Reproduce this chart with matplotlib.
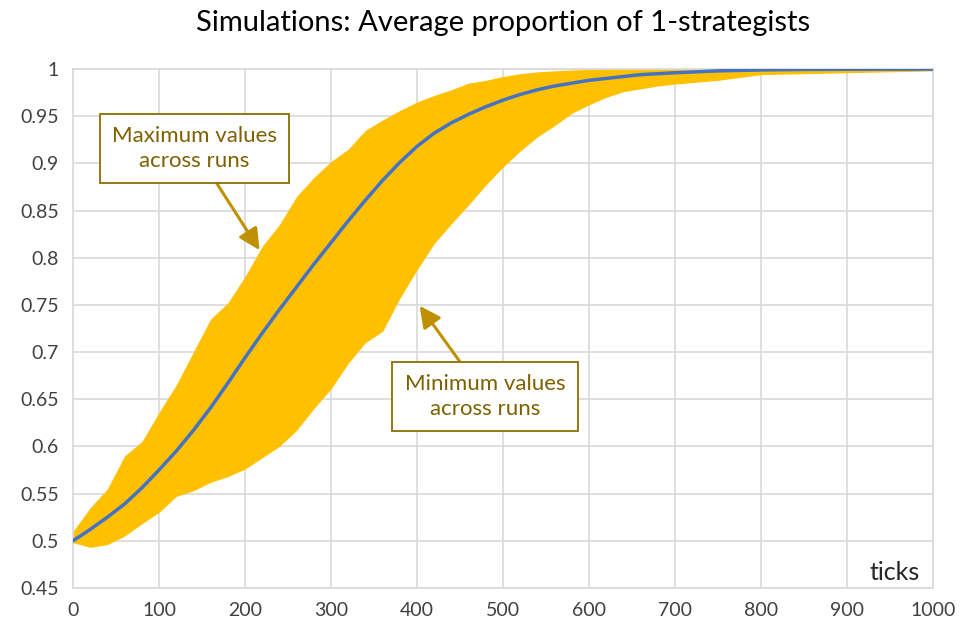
import matplotlib.pyplot as plt

plt.rcParams['font.family'] = ['Lato', 'DejaVu Sans']

# sampled ticks and the proportion of 1-strategists (mean / max / min over runs)
ticks = [0, 20, 40, 60, 80, 100, 120, 140, 160, 180, 200, 220, 240, 260, 280,
         300, 320, 340, 360, 380, 400, 420, 440, 460, 480, 500, 520, 540, 560,
         580, 600, 620, 640, 660, 680, 700, 750, 800, 850, 900, 950, 1000]

avg = [0.500, 0.512, 0.525, 0.539, 0.556, 0.575, 0.595, 0.617, 0.641, 0.667,
       0.694, 0.720, 0.745, 0.769, 0.793, 0.816, 0.839, 0.861, 0.882, 0.901,
       0.918, 0.932, 0.943, 0.952, 0.960, 0.967, 0.973, 0.978, 0.982, 0.985,
       0.988, 0.990, 0.992, 0.994, 0.995, 0.996, 0.998, 0.999, 0.9995, 0.9997,
       0.9998, 0.9999]

max_vals = [0.510, 0.535, 0.555, 0.590, 0.605, 0.636, 0.665, 0.700, 0.735, 0.752,
            0.780, 0.812, 0.835, 0.865, 0.885, 0.902, 0.915, 0.935, 0.946, 0.956,
            0.965, 0.972, 0.978, 0.985, 0.988, 0.992, 0.995, 0.997, 0.998, 0.999,
            0.9995, 1.0, 1.0, 1.0, 1.0, 1.0, 1.0, 1.0, 1.0, 1.0, 1.0, 1.0]

min_vals = [0.498, 0.493, 0.496, 0.505, 0.518, 0.530, 0.547, 0.553, 0.562, 0.568,
            0.576, 0.588, 0.600, 0.617, 0.640, 0.661, 0.688, 0.710, 0.722, 0.757,
            0.787, 0.815, 0.836, 0.856, 0.877, 0.896, 0.913, 0.928, 0.940, 0.953,
            0.962, 0.970, 0.976, 0.979, 0.982, 0.984, 0.988, 0.994, 0.995, 0.996,
            0.997, 0.998]

x_ticks = [0, 100, 200, 300, 400, 500, 600, 700, 800, 900, 1000]
y_ticks = [0.45, 0.5, 0.55, 0.6, 0.65, 0.7, 0.75, 0.8, 0.85, 0.9, 0.95, 1]

fig = plt.figure(figsize=(9.6, 6.3), dpi=100)
ax = fig.add_axes([0.076, 0.0667, 0.896, 0.8238])

# band between min and max, then the average on top
ax.fill_between(ticks, min_vals, max_vals, color='#FFC000', linewidth=0, zorder=2)
ax.plot(ticks, avg, color='#4472C4', linewidth=2.5, zorder=3)

ax.set_xlim(0, 1000)
ax.set_ylim(0.45, 1)
ax.set_xticks(x_ticks)
ax.set_yticks(y_ticks)
ax.set_yticklabels(['%g' % v for v in y_ticks])
ax.tick_params(length=0, labelsize=14, labelcolor='#404040', pad=10)
ax.grid(True, color='#D9D9D9', linewidth=1.2, zorder=0)
ax.set_axisbelow(True)
for s in ax.spines.values():
    s.set_color('#D9D9D9')
    s.set_linewidth(1.2)

ax.set_title('Simulations: Average proportion of 1-strategists', fontsize=21,
             color='black', pad=27)
ax.text(985, 0.466, 'ticks', fontsize=18, color='#262626', ha='right', va='center')

box = dict(boxstyle='square,pad=0.55', facecolor='white', edgecolor='#8C6D00', linewidth=1.3)
arrow = dict(arrowstyle='-|>,head_length=0.8,head_width=0.4', color='#BF9000', linewidth=2.2,
             shrinkA=0, shrinkB=0)

ax.annotate('Maximum values\nacross runs', xy=(217, 0.808), xytext=(141, 0.916),
            fontsize=16, color='#7F6000', ha='center', va='center', linespacing=1.3,
            bbox=box, arrowprops=arrow, zorder=5)
ax.annotate('Minimum values\nacross runs', xy=(403, 0.749), xytext=(479, 0.653),
            fontsize=16, color='#7F6000', ha='center', va='center', linespacing=1.3,
            bbox=box, arrowprops=arrow, zorder=5)

plt.savefig('out.png', dpi=100)
